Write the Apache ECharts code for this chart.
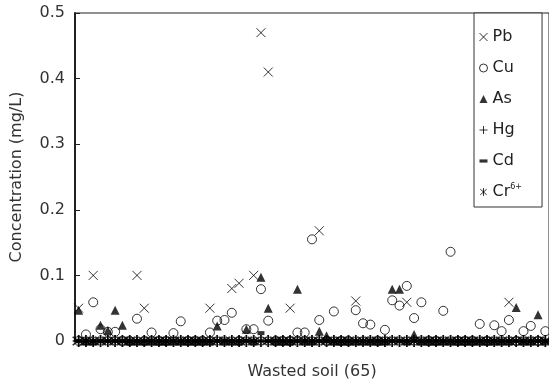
<!DOCTYPE html>
<html>
<head>
<meta charset="utf-8">
<script src="https://cdn.jsdelivr.net/npm/echarts@6/dist/echarts.min.js"></script>
<style>
	html, body { margin: 0; padding: 0; background: #fff; }
	#chart { width: 549px; height: 386px; }
</style>
</head>
<body>
<div id="chart"></div>
<script>
	// 65 wasted soil samples
	const samples = ['1','2','3','4','5','6','7','8','9','10','11','12','13','14','15','16','17','18','19','20',
		'21','22','23','24','25','26','27','28','29','30','31','32','33','34','35','36','37','38','39','40',
		'41','42','43','44','45','46','47','48','49','50','51','52','53','54','55','56','57','58','59','60',
		'61','62','63','64','65'];

	const pb = [0.05,0,0.1,0,0,0,0,0,0.1,0.05, 0,0,0,0,0,0,0,0,0.05,0, 0,0.08,0.088,0,0.1,0.47,0.41,0,0,0.05,
		0,0,0,0.168,0,0,0,0,0.061,0, 0,0,0,0,0,0.059,0,0,0,0, 0,0,0,0,0,0,0,0,0,0.059, 0,0,0,0,0];
	const cu = [0,0.01,0.059,0.018,0.014,0.014,0,0,0.034,0, 0.013,0,0,0.012,0.03,0,0,0,0.013,0.031,
		0.032,0.043,0,0.018,0.018,0.079,0.031,0,0,0, 0.013,0.013,0.155,0.032,0,0.045,0,0,0.047,0.027,
		0.025,0,0.017,0.062,0.054,0.084,0.035,0.059,0,0, 0.046,0.136,0,0,0,0.026,0,0.024,0.015,0.032,
		0,0.015,0.023,0,0.015];
	const as = [0.047,0,0,0.024,0.016,0.047,0.024,0,0,0, 0,0,0,0,0,0,0,0,0,0.023, 0,0,0,0.018,0,0.097,0.05,0,0,0,
		0.079,0,0,0.015,0.008,0,0,0,0,0, 0,0,0,0.079,0.079,0,0.01,0,0,0, 0,0,0,0,0,0,0,0,0,0,
		0.051,0,0,0.04,0];
	const hg = [0,0,0,0,0,0,0,0,0,0, 0,0,0,0,0,0,0,0,0,0, 0,0,0,0,0,0,0,0,0,0, 0,0,0,0,0,0,0,0,0,0,
		0,0,0,0,0,0,0,0,0,0, 0,0,0,0,0,0,0,0,0,0, 0,0,0,0,0];
	const cd = [0,0,0,0,0,0,0,0,0,0, 0,0,0,0,0,0,0,0,0,0, 0,0,0,0,0,0.012,0,0,0,0, 0,0,0,0,0,0,0,0,0,0,
		0,0,0,0,0,0,0,0,0,0, 0,0,0,0,0,0,0,0,0,0, 0,0,0,0,0];
	const cr = [0,0,0,0,0,0,0,0,0,0, 0,0,0,0,0,0,0,0,0,0, 0,0,0,0,0,0,0,0,0,0, 0,0,0,0,0,0,0,0,0,0,
		0,0,0,0,0,0,0,0,0,0, 0,0,0,0,0,0,0,0,0,0, 0,0,0,0,0];

	const yTicks = [0, 0.1, 0.2, 0.3, 0.4, 0.5];

	const font = '"DejaVu Sans", sans-serif';
	const crossPath = 'path://M0,0L10,10M10,0L0,10';
	const plusPath = 'path://M5,0L5,10M0,5L10,5';
	const starPath = 'path://M1,1.5L9,8.5M9,1.5L1,8.5M5,0L5,10';
	const stroke = { color: 'transparent', borderColor: '#000', borderWidth: 1 };
	const thickStroke = { color: 'transparent', borderColor: '#000', borderWidth: 1.6 };
	const iconStroke = { color: 'transparent', borderColor: '#000', borderWidth: 1 };

	function scatter(name, data, symbol, size, itemStyle) {
		return {
			name: name,
			type: 'scatter',
			data: data,
			symbol: symbol,
			symbolSize: size,
			clip: false,
			itemStyle: itemStyle,
			emphasis: { disabled: true },
			animation: false
		};
	}

	const chart = echarts.init(document.getElementById('chart'));
	chart.setOption({
		animation: false,
		grid: {
			left: 75,
			right: -1,
			top: 13,
			bottom: 45,
			show: true,
			borderColor: '#222',
			borderWidth: 1
		},
		legend: {
			orient: 'vertical',
			left: 474,
			top: 13,
			padding: [15, 20, 6, 5],
			itemGap: 13,
			itemWidth: 8,
			itemHeight: 8,
			backgroundColor: '#fff',
			borderColor: '#333',
			borderWidth: 1,
			borderRadius: 0,
			textStyle: {
				fontFamily: font,
				fontSize: 16,
				lineHeight: 18,
				color: '#222',
				rich: {
					sup: { fontSize: 8, verticalAlign: 'top', lineHeight: 8, color: '#222', fontFamily: font }
				}
			},
			formatter: function (name) {
				return name === 'Cr6+' ? 'Cr{sup|6+}' : name;
			},
			data: [
				{ name: 'Pb', icon: crossPath, itemStyle: iconStroke },
				{ name: 'Cu', icon: 'circle', itemStyle: iconStroke },
				{ name: 'As', icon: 'triangle', itemStyle: { color: '#000', borderWidth: 0 } },
				{ name: 'Hg', icon: plusPath, itemStyle: iconStroke },
				{ name: 'Cd', icon: 'path://M0,0H10V4H0Z', itemStyle: { color: '#000', borderWidth: 0 } },
				{ name: 'Cr6+', icon: starPath, itemStyle: iconStroke }
			]
		},
		xAxis: {
			type: 'category',
			data: samples,
			boundaryGap: true,
			name: 'Wasted soil (65)',
			nameLocation: 'middle',
			nameGap: 23,
			nameTextStyle: { fontFamily: font, fontSize: 16, color: '#333' },
			axisLine: { lineStyle: { color: '#222', width: 1 } },
			axisTick: { show: false },
			axisLabel: { show: false },
			splitLine: { show: false }
		},
		yAxis: {
			type: 'value',
			min: yTicks[0],
			max: yTicks[yTicks.length - 1],
			interval: 0.1,
			name: 'Concentration (mg/L)',
			nameLocation: 'middle',
			nameGap: 50,
			nameTextStyle: { fontFamily: font, fontSize: 16, color: '#333' },
			axisLine: { show: true, lineStyle: { color: '#222', width: 2 } },
			axisTick: { show: true, inside: true, length: 5, lineStyle: { color: '#222' } },
			axisLabel: {
				margin: 10,
				fontFamily: font,
				fontSize: 16,
				color: '#333',
				formatter: function (v) { return v === 0 ? '0' : v.toFixed(1); }
			},
			splitLine: { show: false }
		},
		series: [
			scatter('Pb', pb, crossPath, 9, stroke),
			scatter('Cu', cu, 'circle', 9, { color: 'transparent', borderColor: '#000', borderWidth: 1 }),
			scatter('As', as, 'triangle', 9, { color: '#000' }),
			scatter('Hg', hg, plusPath, 12, thickStroke),
			scatter('Cd', cd, 'rect', [7, 4], { color: '#000' }),
			scatter('Cr6+', cr, starPath, 12, thickStroke)
		]
	});
</script>
</body>
</html>
